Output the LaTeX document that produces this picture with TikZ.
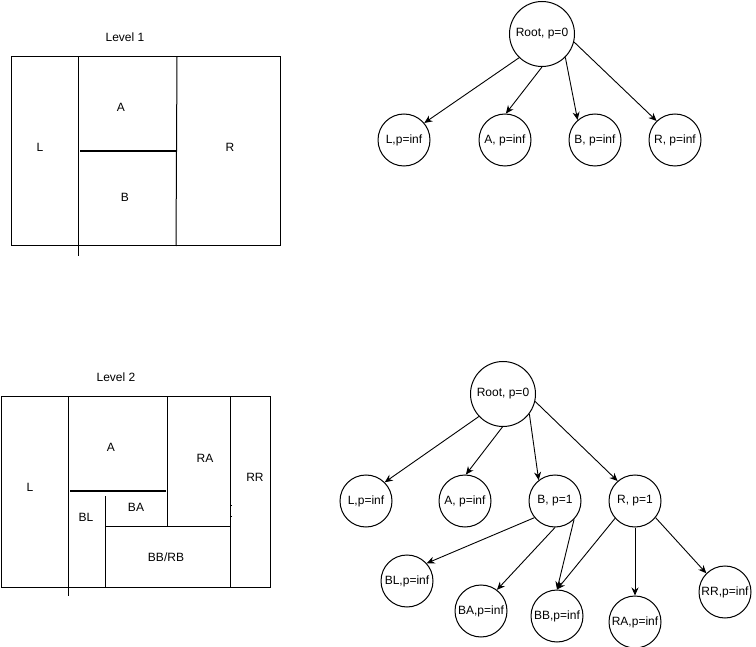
\documentclass[tikz,border=0pt]{standalone}
\usepackage{fontspec}
\setmainfont{Liberation Sans}
\usetikzlibrary{arrows.meta}
\begin{document}
\begin{tikzpicture}[x=1pt,y=-1pt,
  every node/.append style={font=\fontsize{12}{14}\selectfont},
  lbl/.style={inner sep=0pt},
  tnode/.style={circle,draw,line width=1pt,minimum size=52pt,inner sep=0pt},
  troot/.style={circle,draw,line width=1pt,minimum size=65pt,inner sep=0pt},
  edge/.style={draw,line width=0.9pt,-{Stealth[length=8pt,width=7pt]}},
  part/.style={line width=1pt},
  thick part/.style={line width=1.4pt}]
\useasboundingbox (0,0) rectangle (756,647);

% ---------- Level 1 plan ----------
\node[lbl] (lev1) at (125,37) {Level 1};
\draw[part] (11,57) rectangle (280,246);
\draw[part] (78,57) -- (78,256);
\draw[part] (177,57) -- (176,246);
\draw[thick part] (80,151) -- (176,151);
\node[lbl] (p1L) at (40,147) {L};
\node[lbl] (p1A) at (121,107) {A};
\node[lbl] (p1B) at (125,197) {B};
\node[lbl] (p1R) at (230,147) {R};

% ---------- Level 1 tree ----------
\node[troot] (r1) at (542,34) {Root, p=0};
\node[tnode] (l1) at (404,140) {L,p=inf};
\node[tnode] (a1) at (505,140) {A, p=inf};
\node[tnode] (b1) at (595,140) {B, p=inf};
\node[tnode] (rt1) at (675,140) {R, p=inf};
\draw[edge] (r1.226) -- (l1.40);
\draw[edge] (r1.270) -- (a1.88);
\draw[edge] (r1.315) -- (b1.131);
\draw[edge] (r1.346) -- (rt1.134);

% ---------- Level 2 plan ----------
\node[lbl] (lev2) at (116,377) {Level 2};
\draw[part] (1,397) rectangle (270,587);
\draw[part] (68,397) -- (68,596);
\draw[part] (167,397) -- (167,526);
\draw[thick part] (70,491) -- (166,491);
\draw[part] (105,496) -- (105,587);
\draw[part] (105,526) -- (230,526);
\draw[part] (230,397) -- (230,587);
\draw[line width=0.6pt] (230,505.7) -- (232,505.7);
\draw[line width=0.6pt] (230,516) -- (232,516);
\node[lbl] (p2L) at (30,487) {L};
\node[lbl] (p2A) at (111,447) {A};
\node[lbl] (p2RA) at (205,458) {RA};
\node[lbl] (p2RR) at (255,477) {RR};
\node[lbl] (p2BA) at (136,507) {BA};
\node[lbl] (p2BL) at (86,517) {BL};
\node[lbl] (p2BB) at (166,557) {BB/RB};

% ---------- Level 2 tree ----------
\node[troot] (r2) at (503,394) {Root, p=0};
\node[tnode] (l2) at (366,501) {L,p=inf};
\node[tnode] (a2) at (465,501) {A, p=inf};
\node[tnode] (b2) at (555,501) {B, p=1};
\node[tnode] (rt2) at (635,501) {R, p=1};
\node[tnode] (bl2) at (407,581) {BL,p=inf};
\node[tnode] (ba2) at (481,611) {BA,p=inf};
\node[tnode] (bb2) at (557,616) {BB,p=inf};
\node[tnode] (ra2) at (635,622) {RA,p=inf};
\node[tnode] (rr2) at (725,592) {RR,p=inf};
\draw[edge] (r2.223) -- (l2.45);
\draw[edge] (r2.269) -- (a2.88);
\draw[edge] (r2.323) -- (b2.128);
\draw[edge] (r2.347) -- (rt2.131);
\draw[edge] (b2.219) -- (bl2.42);
\draw[edge] (b2.270) -- (ba2.53);
\draw[edge] (b2.316) -- (bb2.90);
\draw[edge] (rt2.221) -- (bb2.90);
\draw[edge] (rt2.270) -- (ra2.90);
\draw[edge] (rt2.321) -- (rr2.135);
\end{tikzpicture}
\end{document}
